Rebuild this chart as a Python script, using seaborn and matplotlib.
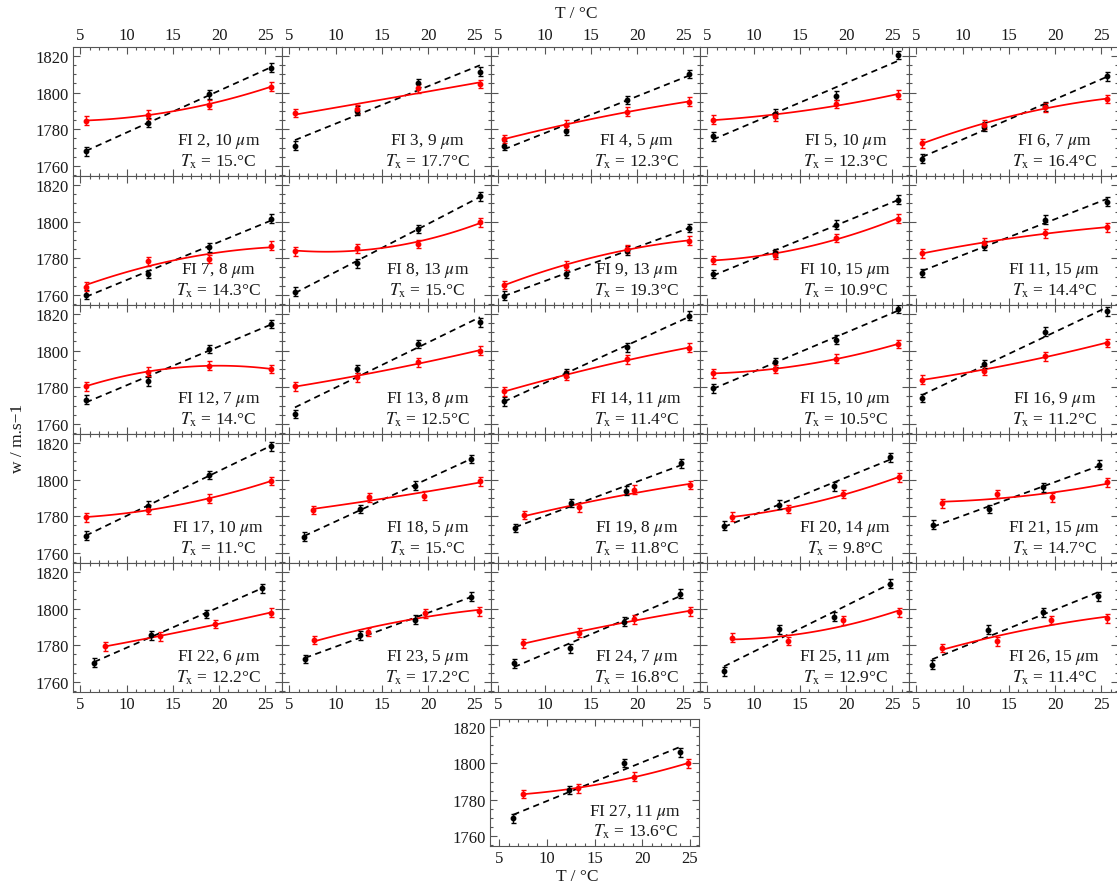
import numpy as np
import matplotlib
matplotlib.use("Agg")
import matplotlib.pyplot as plt
import seaborn as sns
from matplotlib.ticker import MultipleLocator

sns.set_theme(style="ticks")
plt.rcParams['font.family'] = ['Liberation Serif', 'STIXGeneral', 'DejaVu Serif']
plt.rcParams['mathtext.fontset'] = 'stix'

# ---------------- data ----------------
fi_ids = list(range(2, 28))
sizes_um = [10, 9, 5, 10, 7, 8, 13, 13, 15, 15, 7, 8, 11, 10, 9,
            10, 5, 8, 14, 15, 6, 5, 7, 11, 15, 11]
tx_text = ["15.", "17.7", "12.3", "12.3", "16.4", "14.3", "15.", "19.3", "10.9", "14.4",
           "14.", "12.5", "11.4", "10.5", "11.2", "11.", "15.", "11.8", "9.8", "14.7",
           "12.2", "17.2", "16.8", "12.9", "11.4", "13.6"]

T_same = [5.6, 12.3, 18.9, 25.6]
black_T = [T_same] * 16 + [
    [6.6, 12.6, 18.6, 24.6], [6.8, 12.8, 18.8, 24.7], [6.8, 12.7, 18.7, 24.7],
    [6.8, 12.8, 18.7, 24.7], [6.5, 12.6, 18.6, 24.6], [6.7, 12.6, 18.6, 24.6],
    [6.7, 12.7, 18.6, 24.6], [6.8, 12.7, 18.7, 24.7], [6.7, 12.7, 18.7, 24.6],
    [6.5, 12.3, 18.1, 23.9]]
red_T = [T_same] * 16 + [
    [7.6, 13.6, 19.6, 25.6], [7.8, 13.7, 19.7, 25.7], [7.7, 13.7, 19.7, 25.7],
    [7.8, 13.7, 19.7, 25.6], [7.7, 13.6, 19.6, 25.6], [7.7, 13.5, 19.7, 25.5],
    [7.7, 13.7, 19.7, 25.7], [7.7, 13.7, 19.7, 25.7], [7.8, 13.7, 19.6, 25.6],
    [7.5, 13.3, 19.1, 24.8]]

black_w = [
    [1768.0, 1783.5, 1799.0, 1813.5], [1771.1, 1790.2, 1805.3, 1811.4],
    [1771.1, 1779.3, 1796.0, 1810.2], [1776.2, 1788.4, 1798.3, 1820.5],
    [1764.0, 1781.4, 1792.6, 1808.9], [1760.2, 1771.4, 1786.0, 1801.5],
    [1761.8, 1777.3, 1796.0, 1813.8], [1759.6, 1771.4, 1784.2, 1796.5],
    [1771.4, 1782.9, 1798.3, 1812.0], [1772.0, 1786.9, 1801.1, 1810.9],
    [1773.2, 1783.3, 1800.9, 1814.5], [1765.4, 1790.0, 1803.6, 1815.5],
    [1772.4, 1787.8, 1801.8, 1819.1], [1779.5, 1793.6, 1806.0, 1822.7],
    [1774.2, 1792.7, 1810.3, 1821.5], [1769.4, 1785.8, 1802.5, 1818.2],
    [1768.9, 1784.0, 1796.7, 1811.3], [1773.6, 1787.3, 1794.0, 1808.9],
    [1774.9, 1786.3, 1796.4, 1812.2], [1775.4, 1784.0, 1795.8, 1808.2],
    [1770.4, 1785.5, 1797.1, 1811.1], [1772.5, 1785.5, 1794.0, 1806.5],
    [1770.2, 1778.4, 1792.8, 1808.2], [1765.8, 1788.7, 1795.5, 1813.5],
    [1769.3, 1788.5, 1798.0, 1806.7], [1769.6, 1785.3, 1800.2, 1806.2]]
red_w = [
    [1784.7, 1788.0, 1793.5, 1803.3], [1788.9, 1791.1, 1802.4, 1804.7],
    [1774.7, 1782.4, 1789.6, 1795.1], [1785.3, 1787.1, 1793.8, 1798.9],
    [1772.4, 1782.5, 1792.0, 1796.5], [1764.5, 1778.4, 1779.6, 1786.9],
    [1783.8, 1785.5, 1787.8, 1799.6], [1765.4, 1776.0, 1785.1, 1789.6],
    [1779.1, 1781.8, 1791.1, 1801.5], [1782.7, 1788.4, 1793.6, 1796.9],
    [1780.6, 1788.5, 1791.8, 1790.0], [1780.6, 1785.5, 1793.6, 1800.0],
    [1777.8, 1786.3, 1795.2, 1801.5], [1787.6, 1790.0, 1795.5, 1803.6],
    [1784.2, 1789.1, 1797.0, 1804.2], [1779.5, 1783.6, 1789.5, 1799.3],
    [1783.4, 1790.4, 1791.3, 1799.1], [1780.7, 1784.9, 1794.4, 1797.1],
    [1779.8, 1784.0, 1792.2, 1801.3], [1787.1, 1792.2, 1790.4, 1798.6],
    [1779.5, 1784.8, 1791.6, 1797.8], [1782.9, 1787.3, 1797.5, 1798.6],
    [1781.1, 1786.8, 1794.1, 1798.6], [1784.2, 1782.3, 1793.6, 1798.0],
    [1778.5, 1782.2, 1793.8, 1794.7], [1783.1, 1786.2, 1792.7, 1800.1]]
w_err = 2.4

# ---------------- layout ----------------
W, H = 1117, 887
fig = plt.figure(figsize=(W / 100, H / 100), dpi=100)

col_left = [73 + i * 209 for i in range(5)]
row_top = [48 + j * 129 for j in range(5)]
PW, PH = 209, 129
FRAME = '#555555'
TXT = '#1a1a1a'


def add_ax(left, top, w, h):
    return fig.add_axes([left / W, 1 - (top + h) / H, w / W, h / H])


for k, fid in enumerate(fi_ids):
    if k < 25:
        r, c = divmod(k, 5)
        ax = add_ax(col_left[c], row_top[r], PW, PH)
        xlim = (4.2, 26.8)
        ylim = (1754.5, 1824.9)
        lab_bottom, lab_top, lab_left = (r == 4), (r == 0), (c == 0)
    else:
        ax = add_ax(490, 720, 209, 127)
        xlim = (4.06, 25.94)
        ylim = (1754.3, 1824.6)
        lab_bottom, lab_top, lab_left = True, False, True

    sns.regplot(x=np.array(black_T[k]), y=np.array(black_w[k]), order=1, ci=None,
                scatter=False, truncate=True, ax=ax,
                line_kws=dict(color='black', lw=1.25, ls=(0, (3.6, 2.6))))
    sns.regplot(x=np.array(red_T[k]), y=np.array(red_w[k]), order=2, ci=None,
                scatter=False, truncate=True, ax=ax,
                line_kws=dict(color='#ff0000', lw=1.25))
    ax.errorbar(black_T[k], black_w[k], yerr=w_err, fmt='o', ms=3.2, color='black',
                ecolor='black', elinewidth=1.0, capsize=1.8, capthick=1.0, zorder=4)
    ax.errorbar(red_T[k], red_w[k], yerr=w_err, fmt='o', ms=3.2, color='#ff0000',
                ecolor='#ff0000', elinewidth=1.0, capsize=1.8, capthick=1.0, zorder=4)

    ax.set_xlim(*xlim)
    ax.set_ylim(*ylim)
    ax.set_xlabel('')
    ax.set_ylabel('')
    ax.xaxis.set_major_locator(MultipleLocator(5))
    ax.xaxis.set_minor_locator(MultipleLocator(1))
    ax.yaxis.set_major_locator(MultipleLocator(20))
    ax.yaxis.set_minor_locator(MultipleLocator(5))
    ax.tick_params(which='both', direction='in', top=True, right=True,
                   bottom=True, left=True, color=FRAME, width=0.8,
                   labelbottom=lab_bottom, labeltop=lab_top,
                   labelleft=lab_left, labelright=False,
                   labelsize=12, labelcolor=TXT, pad=3)
    ax.tick_params(which='major', length=5)
    ax.tick_params(which='minor', length=2.5)
    for sp in ax.spines.values():
        sp.set_color(FRAME)
        sp.set_linewidth(0.8)
    ax.set_facecolor('white')

    ax.text(0.695, 0.245, f"FI {fid}, {sizes_um[k]} $\\mu$m", transform=ax.transAxes,
            ha='center', va='baseline', fontsize=12.5, color=TXT)
    ax.text(0.695, 0.082, f"$T_{{\\mathrm{{x}}}}$ = {tx_text[k]}°C", transform=ax.transAxes,
            ha='center', va='baseline', fontsize=12.5, color=TXT)

fig.text(576 / W, 1 - 14 / H, "T / °C", ha='center', va='center', fontsize=12.5,
         color=TXT)
fig.text(577 / W, 1 - 877 / H, "T / °C", ha='center', va='center', fontsize=12.5,
         color=TXT)
fig.text(18 / W, 1 - 438 / H, "w / m.s\u22121", ha='center', va='center',
         rotation=90, fontsize=12.5, color=TXT)

fig.savefig("out.png", dpi=100, facecolor='white')
